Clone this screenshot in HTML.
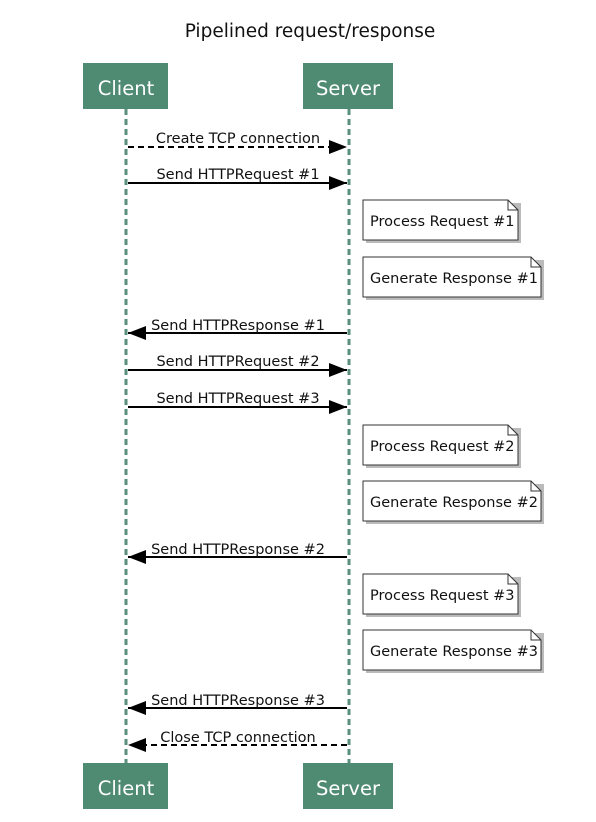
<!DOCTYPE html>
<html><head><style>
html,body{margin:0;padding:0;background:#fff;}
svg{display:block;}
text{font-family:"DejaVu Sans","Liberation Sans",sans-serif;}
</style></head><body>
<svg width="596" height="822" viewBox="0 0 596 822" xmlns="http://www.w3.org/2000/svg">
<defs>
<marker id="ar" markerWidth="18" markerHeight="14" refX="18" refY="7" orient="auto" markerUnits="userSpaceOnUse">
<path d="M0,0 L18,7 L0,14 Z" fill="#000"/>
</marker>
</defs>
<text x="310" y="37" font-size="18.5" text-anchor="middle" fill="#111">Pipelined request/response</text>
<!-- lifelines -->
<line x1="126" y1="109" x2="126" y2="763" stroke="#5a8f7c" stroke-width="3" stroke-dasharray="6,4"/>
<line x1="349" y1="109" x2="349" y2="763" stroke="#5a8f7c" stroke-width="3" stroke-dasharray="6,4"/>
<!-- boxes -->
<g fill="#4f8a73">
<rect x="83" y="63" width="85" height="46"/>
<rect x="303" y="63" width="90" height="46"/>
<rect x="83" y="763" width="85" height="46"/>
<rect x="303" y="763" width="90" height="46"/>
</g>
<g font-size="19.5" fill="#fff" text-anchor="middle">
<text x="126" y="95">Client</text>
<text x="348" y="95">Server</text>
<text x="126" y="795">Client</text>
<text x="348" y="795">Server</text>
</g>
<!-- messages -->
<g stroke="#000" stroke-width="2" fill="none">
<line x1="128" y1="147" x2="347" y2="147" stroke-dasharray="6,4" marker-end="url(#ar)"/>
<line x1="128" y1="183" x2="347" y2="183" marker-end="url(#ar)"/>
<line x1="347" y1="333" x2="128" y2="333" marker-end="url(#ar)"/>
<line x1="128" y1="370" x2="347" y2="370" marker-end="url(#ar)"/>
<line x1="128" y1="407" x2="347" y2="407" marker-end="url(#ar)"/>
<line x1="347" y1="557" x2="128" y2="557" marker-end="url(#ar)"/>
<line x1="347" y1="708" x2="128" y2="708" marker-end="url(#ar)"/>
<line x1="347" y1="745" x2="128" y2="745" stroke-dasharray="6,4" marker-end="url(#ar)"/>
</g>
<g font-size="14.5" fill="#111" text-anchor="middle">
<text x="238" y="143">Create TCP connection</text>
<text x="238" y="179">Send HTTPRequest #1</text>
<text x="238" y="330">Send HTTPResponse #1</text>
<text x="238" y="366">Send HTTPRequest #2</text>
<text x="238" y="403">Send HTTPRequest #3</text>
<text x="238" y="554">Send HTTPResponse #2</text>
<text x="238" y="705">Send HTTPResponse #3</text>
<text x="238" y="742">Close TCP connection</text>
</g>
<!-- notes -->
<g font-size="14.5" fill="#111">
<g transform="translate(363,200)">
<path d="M3,3 H158 V43 H3Z" fill="#bbb"/>
<path d="M0,0 H145 L155,10 V40 H0Z" fill="#fff" stroke="#333"/>
<path d="M145,0 V10 H155" fill="none" stroke="#333"/>
<text x="7" y="26">Process Request #1</text>
</g>
<g transform="translate(363,257)">
<path d="M3,3 H181 V43 H3Z" fill="#bbb"/>
<path d="M0,0 H168 L178,10 V40 H0Z" fill="#fff" stroke="#333"/>
<path d="M168,0 V10 H178" fill="none" stroke="#333"/>
<text x="7" y="26">Generate Response #1</text>
</g>
<g transform="translate(363,425)">
<path d="M3,3 H158 V43 H3Z" fill="#bbb"/>
<path d="M0,0 H145 L155,10 V40 H0Z" fill="#fff" stroke="#333"/>
<path d="M145,0 V10 H155" fill="none" stroke="#333"/>
<text x="7" y="26">Process Request #2</text>
</g>
<g transform="translate(363,481)">
<path d="M3,3 H181 V43 H3Z" fill="#bbb"/>
<path d="M0,0 H168 L178,10 V40 H0Z" fill="#fff" stroke="#333"/>
<path d="M168,0 V10 H178" fill="none" stroke="#333"/>
<text x="7" y="26">Generate Response #2</text>
</g>
<g transform="translate(363,574)">
<path d="M3,3 H158 V43 H3Z" fill="#bbb"/>
<path d="M0,0 H145 L155,10 V40 H0Z" fill="#fff" stroke="#333"/>
<path d="M145,0 V10 H155" fill="none" stroke="#333"/>
<text x="7" y="26">Process Request #3</text>
</g>
<g transform="translate(363,630)">
<path d="M3,3 H181 V43 H3Z" fill="#bbb"/>
<path d="M0,0 H168 L178,10 V40 H0Z" fill="#fff" stroke="#333"/>
<path d="M168,0 V10 H178" fill="none" stroke="#333"/>
<text x="7" y="26">Generate Response #3</text>
</g>
</g>
</svg>
</body></html>
